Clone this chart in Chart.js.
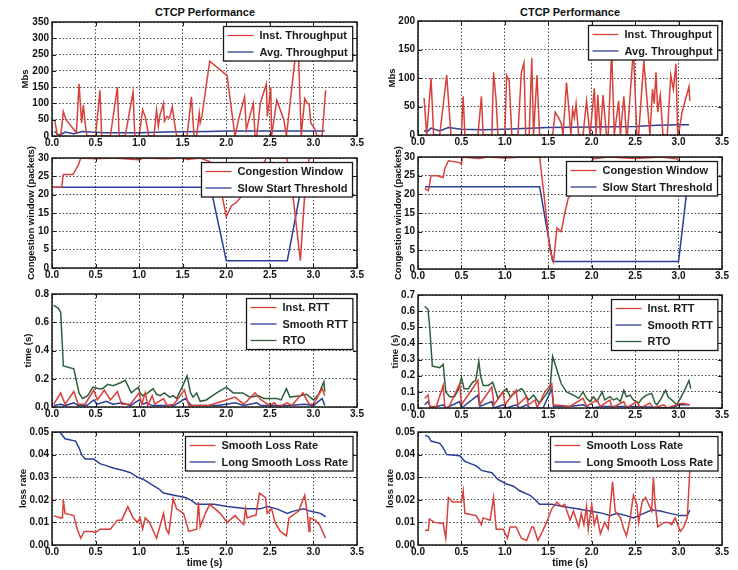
<!DOCTYPE html>
<html>
<head>
<meta charset="utf-8">
<script src="https://cdn.jsdelivr.net/npm/chart.js@4.4.1/dist/chart.umd.min.js"></script>
<style>
  body { margin: 0; background: #fff; width: 738px; height: 570px; position: relative; overflow: hidden;
         font-family: "Liberation Sans", Arial, sans-serif; }
  .title { position: absolute; top: 6px; font-weight: bold; font-size: 11px; color: #111; text-align: center; width: 200px; }
  canvas { position: absolute; }
</style>
</head>
<body>
<div class="title" style="left:105px">CTCP Performance</div>
<div class="title" style="left:470px">CTCP Performance</div>
<script>
// ---- throughput, left run (Mbs)
const thrL_instT = [0.03,0.06,0.10,0.13,0.16,0.28,0.31,0.34,0.36,0.38,0.40,0.50,0.55,0.57,0.67,0.75,0.77,0.84,0.93,0.95,1.00,1.04,1.07,1.11,1.17,1.20,1.22,1.24,1.28,1.29,1.32,1.35,1.38,1.40,1.43,1.55,1.60,1.63,1.66,1.69,1.70,1.72,1.81,2.01,2.05,2.10,2.15,2.21,2.23,2.31,2.33,2.35,2.39,2.46,2.47,2.49,2.51,2.52,2.58,2.66,2.69,2.79,2.83,2.86,2.90,2.93,2.95,2.97,3.02,3.04,3.10,3.14];
const thrL_inst  = [50,5,0,75,50,10,160,40,95,40,0,0,140,0,0,150,0,0,135,0,0,80,60,0,0,80,30,65,100,45,60,55,90,50,0,0,120,0,0,70,40,60,230,185,100,0,60,120,20,100,0,0,100,160,60,100,150,0,110,50,0,240,240,0,115,100,100,40,20,0,0,140];
const thrL_avgT  = [0.03,0.06,0.10,0.15,0.25,0.35,0.45,0.60,1.00,1.30,1.50,1.80,2.00,2.50,3.00,3.13];
const thrL_avg   = [15,5,4,12,7,14,12,10,10,12,13,14,15,15,15,15];

// ---- throughput, right run (Mbs)
const thrR_instT = [0.07,0.10,0.15,0.18,0.25,0.33,0.38,0.50,0.52,0.54,0.69,0.73,0.75,0.85,0.87,0.90,0.92,1.00,1.02,1.05,1.08,1.15,1.19,1.22,1.24,1.28,1.31,1.33,1.37,1.40,1.55,1.58,1.62,1.65,1.67,1.71,1.74,1.76,1.78,1.80,1.82,1.85,1.90,1.94,1.98,2.03,2.05,2.07,2.10,2.13,2.17,2.19,2.23,2.26,2.31,2.33,2.37,2.40,2.41,2.48,2.52,2.54,2.60,2.67,2.70,2.72,2.74,2.76,2.79,2.82,2.87,2.91,2.94,2.97,2.99,3.00,3.04,3.12,3.13];
const thrR_inst  = [65,0,100,0,0,105,0,0,68,0,0,68,0,0,110,60,0,0,105,95,0,0,110,127,0,0,135,0,105,0,0,40,30,20,0,92,40,0,45,30,55,0,0,60,0,82,0,70,0,70,0,0,150,0,60,0,68,0,0,150,0,0,130,0,80,55,110,40,70,0,0,105,80,125,0,0,40,85,60];
const thrR_avgT  = [0.07,0.10,0.15,0.25,0.35,0.50,0.75,1.00,1.50,2.00,2.50,2.75,3.00,3.12];
const thrR_avg   = [8,5,12,7,13,10,9,10,13,14,15,17,18,18];

// ---- congestion window (packets)
const cwL_T   = [0.00,0.08,0.11,0.13,0.24,0.30,0.33,0.50,0.70,1.00,1.05,1.30,1.50,1.55,1.70,1.81,1.95,2.00,2.06,2.12,2.19,2.35,2.46,2.69,2.73,2.85,2.90,2.95,3.13];
const cwL     = [22,22,22,25.5,25.5,28,30,29.8,30,29.5,30,29.8,30,29.6,30,29,20,14,17,18,20,25,30,30,27,2,20,30,30];
const ssL_T   = [0.00,1.82,2.00,2.70,2.86,3.13];
const ssL     = [22,22,2,2,22,22];
const cwR_T   = [0.08,0.12,0.15,0.22,0.29,0.31,0.35,0.48,0.50,0.51,0.70,0.80,1.00,1.20,1.40,1.45,1.52,1.56,1.60,1.65,1.69,1.73,1.77,1.90,2.02,2.20,2.50,2.80,2.98,3.05,3.13];
const cwR     = [21.5,21,25,25,24.5,27,29,28.5,28,30,29.6,30,29.7,30,30,20,5,2,11,10,15,19,20,26,29.5,30,29.6,30,29.5,28,28];
const ssR_T   = [0.08,1.40,1.55,3.00,3.10];
const ssR     = [22,22,2,2,22];

// ---- RTT / RTO, left run (s)
const rttL_T   = [0.02,0.10,0.15,0.25,0.30,0.38,0.48,0.52,0.60,0.67,0.75,0.80,0.90,1.00,1.03,1.07,1.10,1.15,1.18,1.28,1.32,1.40,1.52,1.57,1.80,2.00,2.10,2.20,2.33,2.40,2.50,2.55,2.60,2.70,2.75,2.88,2.95,3.00,3.10,3.13];
const rttL     = [0.02,0.10,0.02,0.11,0.02,0.02,0.12,0.05,0.12,0.05,0.11,0.02,0.02,0.10,0.02,0.10,0.01,0.08,0.02,0.06,0.01,0.02,0.12,0.01,0.01,0.05,0.07,0.02,0.10,0.05,0.01,0.03,0.00,0.03,0.01,0.10,0.02,0.02,0.13,0.08];
const srttL_T  = [0.02,0.10,0.15,0.25,0.30,0.40,0.48,0.52,0.62,0.70,0.80,0.90,1.00,1.05,1.08,1.15,1.40,1.53,1.60,1.90,2.00,2.10,2.20,2.35,2.40,2.70,2.90,3.00,3.10,3.13];
const srttL    = [0.01,0.02,0.01,0.03,0.01,0.01,0.05,0.02,0.04,0.02,0.03,0.01,0.05,0.02,0.03,0.01,0.01,0.06,0.01,0.01,0.02,0.03,0.01,0.03,0.01,0.01,0.02,0.01,0.06,0.01];
const rtoL_T   = [0.02,0.07,0.10,0.13,0.25,0.31,0.35,0.41,0.47,0.54,0.58,0.64,0.70,0.78,0.84,0.91,0.99,1.01,1.04,1.10,1.16,1.20,1.24,1.29,1.35,1.39,1.43,1.50,1.55,1.59,1.62,1.66,1.70,1.77,1.89,2.00,2.08,2.19,2.27,2.37,2.43,2.58,2.63,2.69,2.73,2.85,2.92,3.00,3.06,3.12,3.13];
const rtoL     = [0.72,0.70,0.67,0.29,0.27,0.10,0.06,0.08,0.14,0.13,0.13,0.16,0.15,0.17,0.19,0.10,0.14,0.10,0.08,0.10,0.13,0.09,0.08,0.10,0.07,0.08,0.06,0.15,0.22,0.10,0.07,0.10,0.04,0.05,0.10,0.14,0.10,0.10,0.07,0.08,0.06,0.06,0.05,0.13,0.07,0.08,0.09,0.05,0.09,0.18,0.11];

// ---- RTT / RTO, right run (s)
const rttR_T   = [0.077,0.115,0.135,0.21,0.29,0.31,0.35,0.48,0.50,0.69,0.71,0.85,0.875,0.98,1.00,1.13,1.15,1.25,1.27,1.35,1.37,1.46,1.54,1.56,1.75,1.90,1.94,2.06,2.10,2.21,2.23,2.37,2.40,2.52,2.56,2.67,2.71,2.83,2.87,2.98,3.04,3.13];
const rttR     = [0.06,0.08,0.01,0.01,0.14,0.00,0.00,0.15,0.02,0.17,0.02,0.13,0.02,0.10,0.02,0.11,0.02,0.07,0.02,0.05,0.00,0.10,0.15,0.02,0.01,0.06,0.01,0.05,0.01,0.05,0.00,0.04,0.00,0.04,0.00,0.03,0.00,0.02,0.00,0.02,0.03,0.02];
const srttR_T  = [0.077,0.115,0.15,0.29,0.32,0.48,0.50,0.69,0.71,0.85,0.87,0.98,1.02,1.13,1.17,1.25,1.29,1.44,1.54,1.56,1.75,1.90,1.98,2.13,2.52,2.90,3.02,3.12];
const srttR    = [0.02,0.04,0.00,0.02,0.00,0.04,0.00,0.08,0.01,0.04,0.00,0.02,0.00,0.02,0.00,0.02,0.00,0.00,0.12,0.01,0.01,0.02,0.00,0.01,0.01,0.00,0.02,0.02];
const rtoR_T   = [0.077,0.115,0.135,0.165,0.25,0.29,0.32,0.365,0.42,0.47,0.50,0.53,0.58,0.63,0.665,0.70,0.72,0.75,0.81,0.86,0.885,0.92,0.98,1.02,1.06,1.13,1.19,1.21,1.27,1.31,1.33,1.37,1.40,1.44,1.52,1.55,1.58,1.62,1.65,1.71,1.79,1.85,1.90,1.94,1.98,2.02,2.06,2.12,2.15,2.21,2.25,2.29,2.33,2.37,2.40,2.44,2.48,2.54,2.58,2.63,2.69,2.73,2.75,2.79,2.85,2.88,2.94,2.98,3.06,3.12,3.14];
const rtoR     = [0.63,0.61,0.50,0.26,0.25,0.27,0.10,0.07,0.07,0.12,0.19,0.12,0.12,0.16,0.17,0.29,0.20,0.14,0.14,0.16,0.12,0.06,0.10,0.12,0.07,0.10,0.12,0.11,0.05,0.07,0.08,0.05,0.03,0.06,0.12,0.32,0.27,0.20,0.15,0.10,0.08,0.06,0.10,0.06,0.04,0.07,0.04,0.10,0.05,0.07,0.05,0.06,0.04,0.11,0.07,0.08,0.05,0.03,0.06,0.08,0.09,0.03,0.02,0.05,0.11,0.07,0.04,0.02,0.10,0.17,0.12];

// ---- loss rate, left run
const lossL_T  = [0.02,0.10,0.12,0.13,0.15,0.25,0.29,0.33,0.37,0.46,0.50,0.55,0.67,0.75,0.80,0.87,0.93,0.98,1.01,1.04,1.07,1.12,1.20,1.28,1.31,1.34,1.39,1.43,1.51,1.57,1.66,1.68,1.70,1.76,1.81,1.93,2.01,2.10,2.20,2.22,2.24,2.31,2.34,2.38,2.45,2.47,2.52,2.56,2.62,2.69,2.72,2.83,2.90,2.93,2.95,2.96,3.02,3.07,3.14];
const lossL    = [0.013,0.012,0.012,0.020,0.014,0.013,0.007,0.003,0.006,0.006,0.0055,0.007,0.007,0.011,0.011,0.017,0.012,0.010,0.012,0.007,0.012,0.010,0.003,0.014,0.007,0.005,0.0205,0.016,0.014,0.006,0.007,0.019,0.008,0.014,0.018,0.014,0.010,0.013,0.009,0.016,0.012,0.013,0.013,0.023,0.021,0.014,0.016,0.010,0.006,0.004,0.012,0.015,0.022,0.014,0.006,0.012,0.011,0.009,0.003];
const lossLongL_T = [0.02,0.09,0.11,0.15,0.27,0.31,0.34,0.38,0.48,0.55,0.63,0.71,0.82,0.90,0.98,1.05,1.13,1.22,1.28,1.40,1.53,1.59,1.66,1.86,2.01,2.24,2.39,2.47,2.58,2.70,2.77,2.89,2.96,3.08,3.14];
const lossLongL   = [0.050,0.050,0.049,0.047,0.046,0.043,0.040,0.038,0.038,0.036,0.035,0.034,0.033,0.032,0.030,0.029,0.027,0.025,0.023,0.022,0.021,0.020,0.018,0.018,0.017,0.016,0.016,0.017,0.016,0.014,0.015,0.016,0.015,0.014,0.0125];

// ---- loss rate, right run
const lossR_T  = [0.08,0.12,0.13,0.19,0.29,0.32,0.35,0.40,0.50,0.52,0.54,0.67,0.73,0.75,0.83,0.87,0.90,0.98,1.03,1.06,1.13,1.19,1.25,1.31,1.33,1.38,1.42,1.48,1.54,1.60,1.65,1.69,1.75,1.79,1.85,1.88,1.91,1.94,1.96,2.00,2.03,2.06,2.10,2.15,2.19,2.24,2.27,2.33,2.37,2.40,2.44,2.48,2.52,2.54,2.58,2.62,2.69,2.71,2.73,2.76,2.83,2.88,2.92,2.96,3.02,3.06,3.10,3.13];
const lossR    = [0.0065,0.0065,0.0115,0.010,0.0095,0.003,0.021,0.019,0.019,0.024,0.014,0.013,0.009,0.012,0.011,0.021,0.007,0.007,0.003,0.008,0.008,0.003,0.002,0.008,0.008,0.002,0.005,0.010,0.016,0.019,0.017,0.018,0.011,0.015,0.008,0.014,0.009,0.017,0.007,0.018,0.009,0.013,0.005,0.010,0.007,0.028,0.015,0.012,0.007,0.004,0.011,0.022,0.018,0.010,0.019,0.021,0.015,0.030,0.018,0.008,0.010,0.010,0.009,0.012,0.006,0.008,0.012,0.033];
const lossLongR_T = [0.08,0.12,0.15,0.25,0.29,0.33,0.48,0.54,0.67,0.73,0.85,0.92,1.02,1.10,1.17,1.29,1.35,1.40,1.54,1.67,1.83,1.98,2.13,2.21,2.29,2.40,2.48,2.60,2.69,2.79,2.90,3.02,3.10,3.13];
const lossLongR   = [0.0485,0.048,0.046,0.045,0.043,0.040,0.0395,0.037,0.035,0.033,0.032,0.029,0.027,0.026,0.024,0.022,0.020,0.018,0.018,0.017,0.016,0.015,0.014,0.013,0.014,0.013,0.012,0.014,0.0155,0.015,0.014,0.013,0.013,0.0155];

const RED = '#d8403a', BLUE = '#2b3f96', GREEN = '#2f5e3c';
const GRID = 'rgba(40,40,40,0.85)';
const FONT = '"Liberation Sans", Arial, sans-serif';
const TOPPAD = 14;

function pts(ts, vs) {
  return ts.map((t, i) => ({ x: t, y: vs[i] }));
}

// frame, inward tick marks, rotated y title and a boxed legend (matplotlib look)
const frameLegend = {
  id: 'frameLegend',
  afterDatasetsDraw(chart, args, opts) {
    const ca = chart.chartArea, ctx = chart.ctx;
    const ds = chart.data.datasets;
    ctx.save();
    ctx.strokeStyle = '#1a1a1a';
    ctx.lineWidth = 1.5;
    ctx.strokeRect(ca.left, ca.top, ca.right - ca.left, ca.bottom - ca.top);

    // small inward ticks on all four sides
    ctx.lineWidth = 1;
    ctx.beginPath();
    const xs = chart.scales.x, ys = chart.scales.y;
    xs.ticks.forEach(t => {
      const px = Math.round(xs.getPixelForValue(t.value)) + 0.5;
      ctx.moveTo(px, ca.bottom); ctx.lineTo(px, ca.bottom - 4);
      ctx.moveTo(px, ca.top); ctx.lineTo(px, ca.top + 4);
    });
    ys.ticks.forEach(t => {
      const py = Math.round(ys.getPixelForValue(t.value)) + 0.5;
      ctx.moveTo(ca.left, py); ctx.lineTo(ca.left + 4, py);
      ctx.moveTo(ca.right, py); ctx.lineTo(ca.right - 4, py);
    });
    ctx.stroke();

    // y title
    ctx.save();
    ctx.translate(ca.left - opts.tx, (ca.top + ca.bottom) / 2);
    ctx.rotate(-Math.PI / 2);
    ctx.font = 'bold 9.5px ' + FONT;
    ctx.fillStyle = '#111';
    ctx.textAlign = 'center';
    ctx.textBaseline = 'middle';
    ctx.fillText(opts.ytitle, 0, 0);
    ctx.restore();

    // legend box
    ctx.font = 'bold 11px ' + FONT;
    let tw = 0;
    ds.forEach(d => { tw = Math.max(tw, ctx.measureText(d.label).width); });
    const w = 4 + 26 + 6 + tw + 5;
    const h = 18 + 16.5 * (ds.length - 1);
    const x = Math.round(ca.right - 5 - w) + 0.5, y = Math.round(ca.top + 4) + 0.5;
    ctx.fillStyle = '#fff';
    ctx.fillRect(x, y, w, h);
    ctx.strokeStyle = '#1a1a1a';
    ctx.lineWidth = 1.3;
    ctx.strokeRect(x, y, w, h);
    ds.forEach((d, i) => {
      const cy = y + 9 + i * 16.5;
      ctx.strokeStyle = d.borderColor;
      ctx.lineWidth = 1.3;
      ctx.beginPath();
      ctx.moveTo(x + 4, cy);
      ctx.lineTo(x + 30, cy);
      ctx.stroke();
      ctx.fillStyle = '#1a1a1a';
      ctx.textBaseline = 'middle';
      ctx.fillText(d.label, x + 36, cy + 0.5);
    });
    ctx.restore();
  }
};

function makePanel(p) {
  const [L, T, R, B] = p.rect;
  const xh = p.bottom ? 24 : 14;
  const cv = document.createElement('canvas');
  cv.width = (R - L) + 50 + 14;
  cv.height = (B - T) + TOPPAD + xh;
  cv.style.left = (L - 50) + 'px';
  cv.style.top = (T - TOPPAD) + 'px';
  document.body.appendChild(cv);

  new Chart(cv, {
    type: 'line',
    data: {
      datasets: p.series.map(s => ({
        label: s[0],
        data: pts(s[2], s[3]),
        borderColor: s[1],
        backgroundColor: s[1],
        borderWidth: 1.5,
        pointRadius: 0,
        tension: 0,
        fill: false
      }))
    },
    options: {
      responsive: false,
      animation: false,
      devicePixelRatio: 1,
      layout: { padding: { left: 0, top: TOPPAD, right: 14, bottom: 0 } },
      plugins: {
        legend: { display: false },
        tooltip: { enabled: false },
        frameLegend: { ytitle: p.ytitle, tx: p.tx }
      },
      scales: {
        x: {
          type: 'linear', min: 0, max: 3.5,
          afterFit(s) { s.height = xh; },
          ticks: { stepSize: 0.5, autoSkip: false, maxRotation: 0, padding: 1, color: '#111',
                   font: { family: FONT, size: 10, weight: 'bold' },
                   callback: v => v.toFixed(1) },
          grid: { color: GRID, drawTicks: false, lineWidth: 1 },
          border: { display: false, dash: [1.5, 2] },
          title: { display: !!p.bottom, text: 'time (s)', color: '#111', padding: { top: 0, bottom: 0 },
                   font: { family: FONT, size: 10, weight: 'bold' } }
        },
        y: {
          min: 0, max: p.ymax,
          afterFit(s) { s.width = 50; },
          ticks: { stepSize: p.ystep, padding: 3, color: '#111',
                   font: { family: FONT, size: 10, weight: 'bold' },
                   callback: v => v.toFixed(p.dec) },
          grid: { color: GRID, drawTicks: false, lineWidth: 1 },
          border: { display: false, dash: [1.5, 2] }
        }
      }
    },
    plugins: [frameLegend]
  });
}

const panels = [
  { rect: [52, 22, 357, 136], ymax: 350, ystep: 50, dec: 0, ytitle: 'Mbs', tx: 27,
    series: [['Inst. Throughput', RED, thrL_instT, thrL_inst], ['Avg. Throughput', BLUE, thrL_avgT, thrL_avg]] },
  { rect: [418, 21, 722, 135], ymax: 200, ystep: 50, dec: 0, ytitle: 'Mbs', tx: 26,
    series: [['Inst. Throughput', RED, thrR_instT, thrR_inst], ['Avg. Throughput', BLUE, thrR_avgT, thrR_avg]] },
  { rect: [52, 158, 357, 268], ymax: 30, ystep: 5, dec: 0, ytitle: 'Congestion window (packets)', tx: 21,
    series: [['Congestion Window', RED, cwL_T, cwL], ['Slow Start Threshold', BLUE, ssL_T, ssL]] },
  { rect: [418, 157, 722, 269], ymax: 30, ystep: 5, dec: 0, ytitle: 'Congestion window (packets)', tx: 20,
    series: [['Congestion Window', RED, cwR_T, cwR], ['Slow Start Threshold', BLUE, ssR_T, ssR]] },
  { rect: [52, 294, 357, 407], ymax: 0.8, ystep: 0.1, dec: 1, ytitle: 'time (s)', tx: 24,
    series: [['Inst. RTT', RED, rttL_T, rttL], ['Smooth RTT', BLUE, srttL_T, srttL], ['RTO', GREEN, rtoL_T, rtoL]] },
  { rect: [418, 295, 722, 408], ymax: 0.7, ystep: 0.1, dec: 1, ytitle: 'time (s)', tx: 23,
    series: [['Inst. RTT', RED, rttR_T, rttR], ['Smooth RTT', BLUE, srttR_T, srttR], ['RTO', GREEN, rtoR_T, rtoR]] },
  { rect: [52, 432, 357, 545], ymax: 0.05, ystep: 0.01, dec: 2, ytitle: 'loss rate', tx: 29, bottom: true,
    series: [['Smooth Loss Rate', RED, lossL_T, lossL], ['Long Smooth Loss Rate', BLUE, lossLongL_T, lossLongL]] },
  { rect: [418, 432, 722, 545], ymax: 0.05, ystep: 0.01, dec: 2, ytitle: 'loss rate', tx: 28, bottom: true,
    series: [['Smooth Loss Rate', RED, lossR_T, lossR], ['Long Smooth Loss Rate', BLUE, lossLongR_T, lossLongR]] }
];

panels.forEach(makePanel);
</script>
</body>
</html>
